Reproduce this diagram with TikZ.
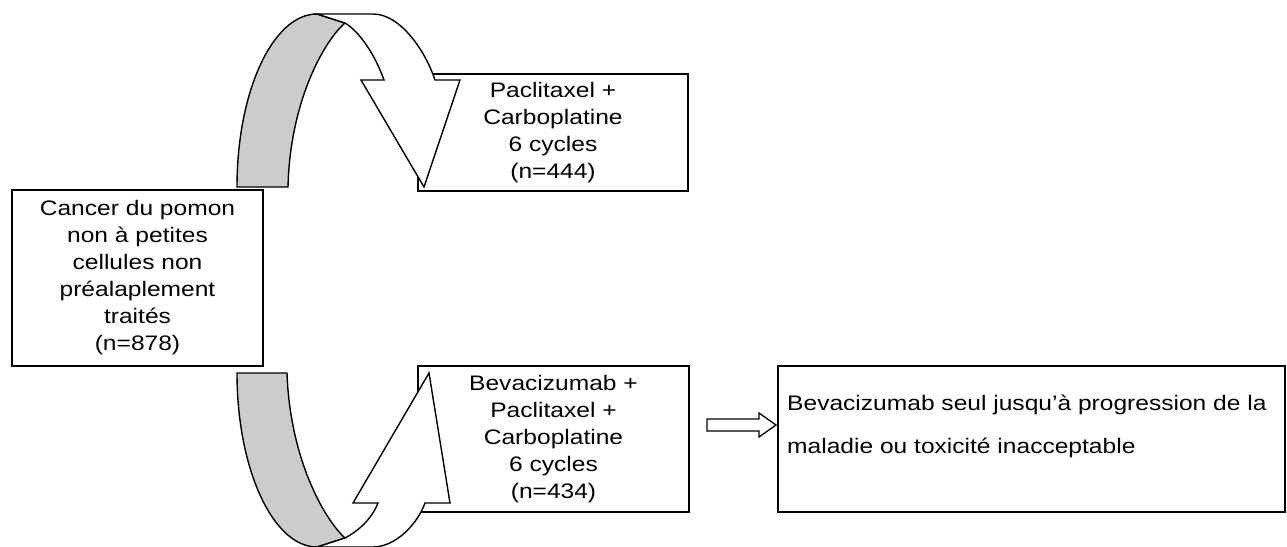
\documentclass[tikz,border=0pt]{standalone}
\usepackage{fontspec}
\setmainfont{Liberation Sans}[FakeStretch=1.17]
\definecolor{ribbon}{RGB}{204,204,204}
\begin{document}
\begin{tikzpicture}[x=1pt,y=-1pt,
  box/.style={draw, line width=1.8pt, inner sep=0pt, align=center, font=\fontsize{21}{27}\selectfont},
  plain/.style={inner sep=0pt, font=\fontsize{21}{27}\selectfont},
  rib/.style={draw, line width=1.4pt, line join=miter},
  blockarrow/.style={draw, line width=1.3pt, fill=white, line join=miter}
]
\useasboundingbox (0,0) rectangle (1287,546);
\clip (0,0) rectangle (1287,546);

\node[box, minimum width=251pt, minimum height=176pt] (src) at (137.5,278)
  {Cancer du pomon\\non à petites\\cellules non\\préalaplement\\traités\\(n=878)};
\node[box, minimum width=270pt, minimum height=117pt] (pc) at (553,132.5)
  {Paclitaxel +\\Carboplatine\\6 cycles\\(n=444)};
\node[box, minimum width=271pt, minimum height=146pt] (bpc) at (553.5,439)
  {Bevacizumab +\\Paclitaxel +\\Carboplatine\\6 cycles\\(n=434)};
\node[box, minimum width=507pt, minimum height=146pt] (bev) at (1031.5,439) {};
\node[plain, anchor=base west] (t1) at (787,410) {Bevacizumab seul jusqu’à progression de la};
\node[plain, anchor=base west] (t2) at (787,453) {maladie ou toxicité inacceptable};

% block arrow towards the maintenance box
\draw[blockarrow] (707,419) -- (759,419) -- (759,413) -- (776,425) -- (759,437) -- (759,431) -- (707,431) -- cycle;

% upper curved ribbon arrow
\filldraw[rib, fill=ribbon] (237,187) .. controls (237,91) and (273,14) .. (317,14)
  -- (345,23) .. controls (325,40) and (290,100) .. (288,187) -- cycle;
\filldraw[rib, fill=white] (317,14) -- (373,14) .. controls (400,14) and (425,50) .. (435,80)
  -- (460,80) -- (424,187) -- (361,80) -- (384,80)
  .. controls (375,55) and (360,32) .. (345,23) -- cycle;

% lower curved ribbon arrow
\filldraw[rib, fill=ribbon] (237,373) .. controls (237,469) and (273,547) .. (317,547)
  -- (345,538) .. controls (325,520) and (290,460) .. (287,373) -- cycle;
\filldraw[rib, fill=white] (317,547) -- (373,547) .. controls (395,547) and (417,525) .. (425,503)
  -- (450,503) -- (429,373) -- (353,503) -- (378,503)
  .. controls (372,518) and (360,530) .. (345,538) -- cycle;
\end{tikzpicture}
\end{document}
